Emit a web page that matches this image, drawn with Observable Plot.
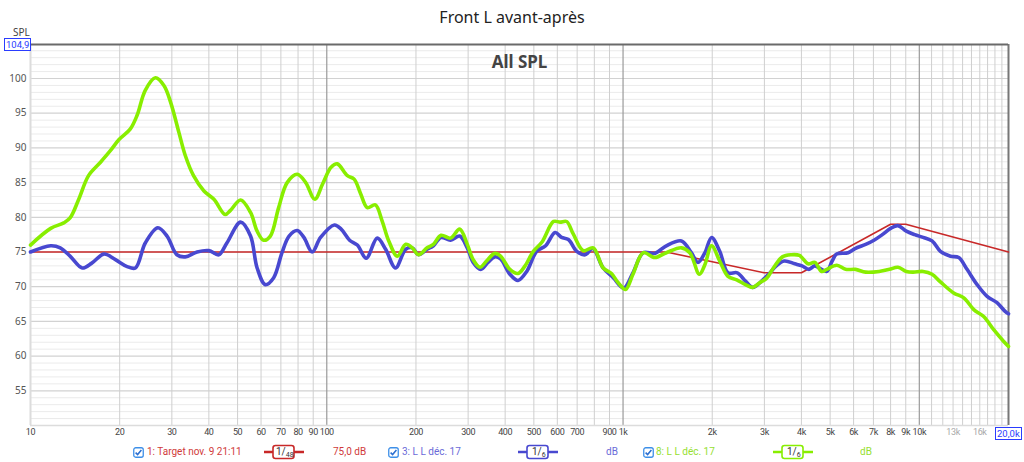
<!DOCTYPE html>
<html><head><meta charset="utf-8">
<script src="https://cdn.jsdelivr.net/npm/d3@7"></script>
<script src="https://cdn.jsdelivr.net/npm/@observablehq/plot@0.6"></script>
<style>
body{margin:0;background:#fff;font-family:"Noto Sans",sans-serif;}
#wrap{position:relative;width:1024px;height:462px;overflow:hidden;background:#fff}
#wrap svg.plot{position:absolute;left:0;top:0}
.abs{position:absolute;white-space:nowrap}
.ico{line-height:0}
.ico svg{display:block}
#title{left:0;top:6px;width:1024px;text-align:center;font-size:16px;color:#222;}
.box{border:1px solid #2a3cff;color:#2a3cff;font-family:Roboto,sans-serif;font-size:9.5px;line-height:11px;padding:0 1px;background:#fff}
.leg{font-family:Roboto,sans-serif;font-size:10px;top:446px;line-height:12px}
</style></head>
<body><div id="wrap"><div id="title" class="abs">Front L avant-après</div></div>
<script>
// ---- data ----
const xTickValues = [10,20,30,40,50,60,70,80,90,100,200,300,400,500,600,700,900,1000,2000,3000,4000,5000,6000,7000,8000,9000,10000,13000,16000];
const xTickLabels = ["10","20","30","40","50","60","70","80","90","100","200","300","400","500","600","700","900","1k","2k","3k","4k","5k","6k","7k","8k","9k","10k","13k","16k"];
const xGridValues = [20,30,40,50,60,70,80,90,200,300,400,500,600,700,800,900,2000,3000,4000,5000,6000,7000,8000,9000,11000,12000,13000,14000,15000,16000,17000,18000,19000];
const xDecadeValues = [100,1000,10000];
const yTickValues = [55,60,65,70,75,80,85,90,95,100];
const yMinorValues = [51,52,53,54,56,57,58,59,61,62,63,64,66,67,68,69,71,72,73,74,76,77,78,79,81,82,83,84,86,87,88,89,91,92,93,94,96,97,98,99,101,102,103,104];

const target = [[10,75],[1400,75],[3000,72],[4000,72],[8000,79],[9000,79],[20000,75]];

const blue = [[10,75.0],[11.7,75.9],[12.6,75.6],[13.6,74.4],[14.95,72.7],[16.1,73.4],[17.7,74.7],[19.35,73.9],[21.2,72.9],[22.6,72.7],[24.4,76.3],[26.9,78.5],[28.9,77.3],[31.2,74.6],[33.3,74.3],[36.5,75.0],[40,75.2],[43.2,74.6],[46,76.3],[51.2,79.3],[55.3,77.3],[58.2,72.7],[62,70.3],[66.2,71.3],[70.6,74.9],[74.6,77.3],[79.5,78.1],[83.7,77.1],[89.3,75.0],[95.3,77.1],[106.1,78.9],[111.8,78.3],[119.4,76.7],[126.8,76.0],[135.9,74.1],[148,77.0],[158,75.4],[170.6,72.7],[184.7,75.4],[194.4,75.6],[204,74.6],[218,75.4],[229,75.9],[243,77.1],[261.7,76.7],[281,77.3],[298,75.6],[312,73.5],[331,72.5],[350,73.5],[369,74.3],[386,74.0],[415,71.8],[442,70.9],[473,72.2],[511,75.1],[548,75.9],[590,77.8],[620,77.1],[654,76.8],[698,75.1],[745,74.6],[790,75.5],[857,72.7],[927,71.3],[1005,69.8],[1080,72.0],[1170,74.9],[1280,74.8],[1400,75.9],[1575,76.6],[1700,74.9],[1790,73.5],[1890,74.9],[1990,77.1],[2120,75.1],[2260,72.0],[2430,72.0],[2590,70.8],[2740,69.9],[2900,70.6],[3100,71.8],[3290,73.0],[3500,73.7],[3800,73.3],[4020,73.0],[4240,72.5],[4440,73.0],[4680,72.5],[4870,72.2],[5080,73.7],[5260,74.7],[5750,74.9],[6070,75.5],[6590,76.1],[7030,76.7],[7500,77.5],[8000,78.4],[8470,78.8],[9040,78.0],[9650,77.5],[10300,77.1],[11040,76.6],[11780,75.1],[12740,74.4],[13580,74.2],[14490,72.5],[15670,70.3],[16940,68.6],[18290,67.7],[19530,66.4],[20000,66.1]];

const green = [[10,76.0],[11.7,78.4],[12.95,79.2],[13.6,79.9],[14.55,82.6],[15.7,86.0],[17.2,87.9],[18.6,89.6],[19.9,91.2],[21.7,92.7],[22.9,94.7],[24.4,98.3],[26.4,100.1],[28.2,99.0],[29.7,96.6],[31.7,92.2],[33.3,88.9],[35.5,86.0],[38.5,83.8],[41.6,82.6],[45.4,80.4],[47.3,81.0],[51.2,82.5],[55.3,80.7],[58.2,78.0],[61.2,76.7],[64.5,77.3],[68.8,81.4],[73.5,85.0],[79.5,86.2],[84.9,85.0],[91.1,82.6],[96.8,84.8],[103.4,87.2],[108.5,87.7],[117.4,86.0],[123.7,85.5],[130.1,83.4],[137,81.4],[145.9,81.8],[153.7,79.5],[161.9,76.6],[173,74.4],[184.7,76.1],[194.4,75.6],[204,74.6],[218,75.6],[229,76.1],[243,77.4],[261.7,77.0],[281,78.3],[298,76.1],[312,73.9],[329,72.8],[346,73.7],[369,74.8],[386,74.4],[415,72.5],[442,71.9],[467,73.0],[498,75.1],[532,76.4],[583,79.4],[613,79.3],[645,79.4],[679,77.6],[734,75.2],[793,75.6],[857,72.7],[914,71.9],[962,70.6],[1020,69.6],[1080,71.8],[1170,74.9],[1280,74.2],[1400,74.9],[1575,75.6],[1680,74.9],[1810,71.8],[1890,73.2],[1990,75.9],[2120,73.7],[2260,71.5],[2420,71.0],[2590,70.3],[2740,69.9],[2900,70.6],[3050,71.2],[3230,72.8],[3450,74.3],[3690,74.6],[3940,74.5],[4210,73.3],[4440,73.5],[4680,72.2],[4870,72.5],[5270,73.1],[5640,72.5],[6090,72.5],[6590,72.1],[7320,72.2],[7930,72.5],[8470,72.8],[9040,72.2],[9530,72.1],[10300,72.2],[11040,71.8],[11780,70.7],[13060,69.1],[14130,68.4],[15270,66.7],[16490,65.7],[17830,63.8],[19270,62.1],[20000,61.4]];

const legendItems = [
  {name:"1: Target nov. 9 21:11", smoothing:"48", value:"75,0 dB", color:"#c82828", text:"#d03a3a"},
  {name:"3: L L déc. 17", smoothing:"6", value:"dB", color:"#4848d0", text:"#6a6ad8"},
  {name:"8: L L déc. 17", smoothing:"6", value:"dB", color:"#88ee00", text:"#96e030"}
];

const toRows = a => a.map(([f, db]) => ({f, db}));
const xTicks = xTickValues.map((v,i)=>({v, label:xTickLabels[i]}));

const plot = Plot.plot({
  width:1024, height:462,
  marginTop:44, marginBottom:37, marginLeft:30, marginRight:16,
  x:{type:"log", domain:[10,20000], axis:null},
  y:{domain:[50,104.9]},
  style:{fontFamily:"'Noto Sans',sans-serif", fontSize:"10px", color:"#555", background:"transparent"},
  marks:[
    Plot.ruleY(yMinorValues,{stroke:"#ebebeb", strokeWidth:1}),
    Plot.ruleY(yTickValues,{stroke:"#d2d2d2", strokeWidth:1.2}),
    Plot.ruleX(xGridValues,{stroke:"#cfcfcf", strokeWidth:1}),
    Plot.ruleX(xDecadeValues,{stroke:"#9a9a9a", strokeWidth:1.2}),
    Plot.ruleX([10],{stroke:"#dcdcdc", strokeWidth:2}),
    Plot.ruleY([50],{stroke:"#dcdcdc", strokeWidth:1.5}),
    Plot.ruleX([20000],{stroke:"#777", strokeWidth:2}),
    Plot.ruleY([104.9],{stroke:"#6a6a6a", strokeWidth:2}),
    Plot.axisY(yTickValues, {tickSize:0, tickPadding:4, label:null, fill:"#555"}),
    Plot.text(xTicks, {x:"v", text:"label", frameAnchor:"bottom", dy:9, fontSize:9, fontFamily:"Roboto",
      fill:d => d.v >= 13000 ? "#a8a8a8" : "#444"}),
    Plot.text(["All SPL"],{frameAnchor:"top", dx:0, dy:11, fontSize:17, fontWeight:"bold", fill:"#444"}),
    Plot.line(toRows(target),{x:"f", y:"db", stroke:"#c82828", strokeWidth:1.6}),
    Plot.line(toRows(blue),{x:"f", y:"db", stroke:"#4848d0", strokeWidth:3.6, curve:"catmull-rom"}),
    Plot.line(toRows(green),{x:"f", y:"db", stroke:"#88ee00", strokeWidth:3.6, curve:"catmull-rom"})
  ]
});
plot.classList.add("plot");
d3.select(plot).selectAll('g[aria-label="text"]').filter((d,i)=>i===0)
  .selectAll("text").style("letter-spacing","-0.4px");
const wrap = document.getElementById("wrap");
wrap.appendChild(plot);

function addAbs(html, css, cls){
  const d = document.createElement("div");
  d.className = "abs " + (cls||"");
  d.style.cssText = css;
  d.innerHTML = html;
  wrap.appendChild(d);
  return d;
}
addAbs("SPL","left:13px;top:26px;font-size:10px;color:#444;line-height:12px;");
addAbs("104,9","left:4px;top:38px;","box");
addAbs("20,0k","left:995px;top:427px;","box");

// legend
const check = () => `<svg width="11" height="11"><rect x="0.75" y="0.75" width="9.5" height="9.5" rx="2" fill="#fff" stroke="#3d8fe8" stroke-width="1.3"/><path d="M2.6 5.6 L4.6 7.6 L8.4 3.0" fill="none" stroke="#2b6fd0" stroke-width="1.5"/></svg>`;
const smooth = (c,n) => `<svg width="40" height="16"><line x1="0" y1="8" x2="40" y2="8" stroke="${c}" stroke-width="2.5"/><rect x="9" y="1.5" width="21" height="13" rx="2.5" fill="#fff" stroke="${c}" stroke-width="1.6"/><text x="${n.length>1?12:14}" y="11" font-size="10" font-family="Roboto" fill="#333">1/<tspan font-size="7" dy="2">${n}</tspan></text></svg>`;
const legX = [[133,147,264,333],[388,402,518,606],[643,656,773,860]];
legendItems.forEach((it,i)=>{
  const [cx,tx,sx,vx] = legX[i];
  addAbs(check(), `left:${cx}px;top:447px;`, "ico");
  addAbs(it.name, `left:${tx}px;color:${it.text};`, "leg");
  addAbs(smooth(it.color, it.smoothing), `left:${sx}px;top:444px;`, "ico");
  addAbs(it.value, `left:${vx}px;color:${it.text};`, "leg");
});
</script></body></html>
